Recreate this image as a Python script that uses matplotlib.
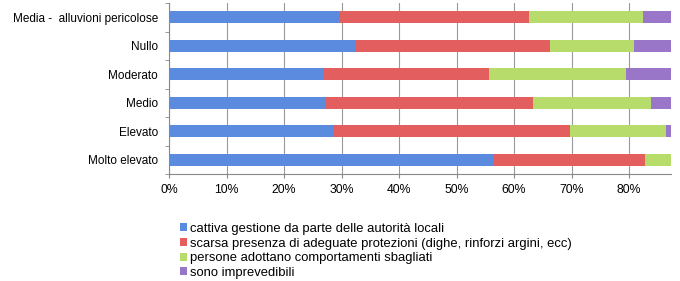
import matplotlib
matplotlib.use("Agg")
import matplotlib.pyplot as plt
import numpy as np

plt.rcParams['font.family'] = ['Liberation Sans', 'DejaVu Sans']

categories = ["Media -  alluvioni pericolose", "Nullo", "Moderato", "Medio", "Elevato", "Molto elevato"]
series_names = [
    "cattiva gestione da parte delle autorità locali",
    "scarsa presenza di adeguate protezioni (dighe, rinforzi argini, ecc)",
    "persone adottano comportamenti sbagliati",
    "sono imprevedibili",
]
cattiva = [29.6, 32.5, 26.7, 27.2, 28.7, 56.5]
scarsa = [33.0, 33.8, 28.9, 36.1, 41.0, 26.2]
persone = [19.8, 14.5, 23.8, 20.5, 16.7, 15.0]
imprevedibili = [17.6, 19.2, 20.6, 16.2, 13.6, 2.3]
xticks = [0, 10, 20, 30, 40, 50, 60, 70, 80]

colors = ["#5A8BDF", "#E35E5E", "#B8DC6C", "#9A76C8"]

fig = plt.figure(figsize=(6.8, 2.81), dpi=100)
ax = fig.add_axes([169 / 680, 1 - 174 / 281, (671 - 169) / 680, 171 / 281])

y = np.arange(len(categories))
left = np.zeros(len(categories))
for vals, name, c in zip([cattiva, scarsa, persone, imprevedibili], series_names, colors):
    ax.barh(y, vals, left=left, height=0.42, color=c, label=name, zorder=3)
    left += np.array(vals)

ax.set_ylim(len(categories) - 0.5, -0.5)
ax.set_xlim(0, 87.3)
ax.set_yticks(y)
ax.set_yticklabels(categories, fontsize=8.5)
ax.set_yticks(np.arange(-0.5, len(categories)), minor=True)
ax.tick_params(axis='y', which='major', length=0, pad=8)
ax.tick_params(axis='y', which='minor', length=3, color='#888888')
ax.set_xticks(xticks)
ax.set_xticklabels([f"{t}%" for t in xticks], fontsize=8.8)
ax.tick_params(axis='x', length=3, color='#888888', pad=4)
ax.grid(axis='x', color='#999999', linewidth=0.8, zorder=0)
for s in ['top', 'right']:
    ax.spines[s].set_visible(False)
for s in ['left', 'bottom']:
    ax.spines[s].set_color('#888888')

handles, labels = ax.get_legend_handles_labels()
fig.legend(handles, labels, loc='upper left', bbox_to_anchor=(180 / 680, 1 - 223 / 281),
           frameon=False, fontsize=9.4, handlelength=0.55, handleheight=0.55,
           handletextpad=0.25, labelspacing=0.2, borderaxespad=0, borderpad=0)

fig.savefig("out.png", dpi=100)
